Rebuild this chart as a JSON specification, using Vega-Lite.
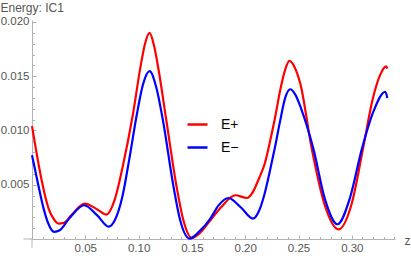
{
  "$schema": "https://vega.github.io/schema/vega-lite/v6.json",
  "width": 363,
  "height": 219,
  "autosize": "none",
  "padding": {"left": 32, "top": 20, "right": 16, "bottom": 20},
  "background": "white",
  "config": {"view": {"stroke": null}, "font": "Liberation Sans"},
  "datasets": {
    "axes": [
      {"z": -0.008, "z2": 0, "E": 0, "E2": 0},
      {"z": 0, "z2": 0, "E": -0.0008, "E2": 0}
    ],
    "curves": [
      {"z": 0, "E": 0.0104, "s": "E+"},
      {"z": 0.0047, "E": 0.0077, "s": "E+"},
      {"z": 0.0094, "E": 0.00525, "s": "E+"},
      {"z": 0.0156, "E": 0.0028, "s": "E+"},
      {"z": 0.02, "E": 0.0019, "s": "E+"},
      {"z": 0.025, "E": 0.00142, "s": "E+"},
      {"z": 0.03, "E": 0.0015, "s": "E+"},
      {"z": 0.037, "E": 0.0022, "s": "E+"},
      {"z": 0.0494, "E": 0.00326, "s": "E+"},
      {"z": 0.06, "E": 0.0028, "s": "E+"},
      {"z": 0.0697, "E": 0.00225, "s": "E+"},
      {"z": 0.0775, "E": 0.0036, "s": "E+"},
      {"z": 0.0847, "E": 0.0065, "s": "E+"},
      {"z": 0.0945, "E": 0.0114, "s": "E+"},
      {"z": 0.102, "E": 0.016, "s": "E+"},
      {"z": 0.106, "E": 0.018, "s": "E+"},
      {"z": 0.1103, "E": 0.019, "s": "E+"},
      {"z": 0.1145, "E": 0.0178, "s": "E+"},
      {"z": 0.1188, "E": 0.01555, "s": "E+"},
      {"z": 0.126, "E": 0.01094, "s": "E+"},
      {"z": 0.1357, "E": 0.00479, "s": "E+"},
      {"z": 0.142, "E": 0.00172, "s": "E+"},
      {"z": 0.15, "E": 0.0001, "s": "E+"},
      {"z": 0.158, "E": 0.0006, "s": "E+"},
      {"z": 0.1673, "E": 0.00172, "s": "E+"},
      {"z": 0.178, "E": 0.003, "s": "E+"},
      {"z": 0.1907, "E": 0.00403, "s": "E+"},
      {"z": 0.2017, "E": 0.00378, "s": "E+"},
      {"z": 0.207, "E": 0.0043, "s": "E+"},
      {"z": 0.213, "E": 0.0056, "s": "E+"},
      {"z": 0.2185, "E": 0.007, "s": "E+"},
      {"z": 0.2233, "E": 0.009, "s": "E+"},
      {"z": 0.228, "E": 0.0112, "s": "E+"},
      {"z": 0.233, "E": 0.0138, "s": "E+"},
      {"z": 0.2375, "E": 0.0156, "s": "E+"},
      {"z": 0.2414, "E": 0.01641, "s": "E+"},
      {"z": 0.246, "E": 0.0159, "s": "E+"},
      {"z": 0.2517, "E": 0.0143, "s": "E+"},
      {"z": 0.2624, "E": 0.00833, "s": "E+"},
      {"z": 0.275, "E": 0.003, "s": "E+"},
      {"z": 0.2874, "E": 0.00089, "s": "E+"},
      {"z": 0.3, "E": 0.0033, "s": "E+"},
      {"z": 0.3105, "E": 0.00833, "s": "E+"},
      {"z": 0.3196, "E": 0.0129, "s": "E+"},
      {"z": 0.3265, "E": 0.0151, "s": "E+"},
      {"z": 0.3323, "E": 0.0159, "s": "E+"},
      {"z": 0.3333, "E": 0.0157, "s": "E+"},
      {"z": 0, "E": 0.00771, "s": "E−"},
      {"z": 0.0053, "E": 0.00525, "s": "E−"},
      {"z": 0.0109, "E": 0.0028, "s": "E−"},
      {"z": 0.015, "E": 0.0015, "s": "E−"},
      {"z": 0.0209, "E": 0.00065, "s": "E−"},
      {"z": 0.026, "E": 0.0008, "s": "E−"},
      {"z": 0.035, "E": 0.0019, "s": "E−"},
      {"z": 0.049, "E": 0.00311, "s": "E−"},
      {"z": 0.061, "E": 0.0022, "s": "E−"},
      {"z": 0.0719, "E": 0.00114, "s": "E−"},
      {"z": 0.078, "E": 0.0018, "s": "E−"},
      {"z": 0.0847, "E": 0.00387, "s": "E−"},
      {"z": 0.0915, "E": 0.0075, "s": "E−"},
      {"z": 0.0982, "E": 0.0114, "s": "E−"},
      {"z": 0.104, "E": 0.0142, "s": "E−"},
      {"z": 0.1103, "E": 0.01546, "s": "E−"},
      {"z": 0.1165, "E": 0.014, "s": "E−"},
      {"z": 0.1228, "E": 0.01094, "s": "E−"},
      {"z": 0.1328, "E": 0.00479, "s": "E−"},
      {"z": 0.139, "E": 0.00172, "s": "E−"},
      {"z": 0.1478, "E": 0.00004, "s": "E−"},
      {"z": 0.157, "E": 0.0007, "s": "E−"},
      {"z": 0.1673, "E": 0.00188, "s": "E−"},
      {"z": 0.175, "E": 0.0031, "s": "E−"},
      {"z": 0.1842, "E": 0.00378, "s": "E−"},
      {"z": 0.196, "E": 0.0029, "s": "E−"},
      {"z": 0.2073, "E": 0.00188, "s": "E−"},
      {"z": 0.213, "E": 0.0026, "s": "E−"},
      {"z": 0.218, "E": 0.0041, "s": "E−"},
      {"z": 0.223, "E": 0.0062, "s": "E−"},
      {"z": 0.228, "E": 0.0085, "s": "E−"},
      {"z": 0.233, "E": 0.011, "s": "E−"},
      {"z": 0.2375, "E": 0.013, "s": "E−"},
      {"z": 0.2423, "E": 0.0138, "s": "E−"},
      {"z": 0.247, "E": 0.0133, "s": "E−"},
      {"z": 0.2525, "E": 0.012, "s": "E−"},
      {"z": 0.2639, "E": 0.00833, "s": "E−"},
      {"z": 0.275, "E": 0.0036, "s": "E−"},
      {"z": 0.2865, "E": 0.00136, "s": "E−"},
      {"z": 0.298, "E": 0.0037, "s": "E−"},
      {"z": 0.3095, "E": 0.00833, "s": "E−"},
      {"z": 0.3205, "E": 0.0118, "s": "E−"},
      {"z": 0.3314, "E": 0.01357, "s": "E−"},
      {"z": 0.3333, "E": 0.013, "s": "E−"}
    ]
  },
  "encoding": {
    "x": {
      "field": "z", "type": "quantitative",
      "scale": {"domain": [0, 0.3405], "nice": false, "zero": false},
      "axis": {
        "title": "z", "titleAngle": 0, "titleX": 375, "titleY": 1, "titleAlign": "center", "titleBaseline": "middle",
        "titleFontSize": 12, "titleFontWeight": "normal", "titleColor": "#555555",
        "values": [0.01,0.02,0.03,0.04,0.05,0.06,0.07,0.08,0.09,0.1,0.11,0.12,0.13,0.14,0.15,0.16,0.17,0.18,0.19,0.2,0.21,0.22,0.23,0.24,0.25,0.26,0.27,0.28,0.29,0.3,0.31,0.32,0.33,0.34],
        "labelExpr": "round(datum.value*100) % 5 == 0 ? format(datum.value, '.2f') : ''",
        "tickSize": {"condition": {"test": "round(datum.value*100) % 5 == 0", "value": -4}, "value": -2.5},
        "labelPadding": 7, "labelFontSize": 11.5, "labelColor": "#555555", "labelFlush": false,
        "domainColor": "#b3b3b3", "tickColor": "#b3b3b3", "grid": false
      }
    },
    "y": {
      "field": "E", "type": "quantitative",
      "scale": {"domain": [0, 0.02018], "nice": false, "zero": false},
      "axis": {
        "title": "Energy: IC1", "titleAngle": 0, "titleX": -32, "titleY": -9, "titleAlign": "left", "titleBaseline": "alphabetic",
        "titleFontSize": 12, "titleFontWeight": "normal", "titleColor": "#555555",
        "values": [0.001,0.002,0.003,0.004,0.005,0.006,0.007,0.008,0.009,0.01,0.011,0.012,0.013,0.014,0.015,0.016,0.017,0.018,0.019,0.02],
        "labelExpr": "round(datum.value*1000) % 5 == 0 ? format(datum.value, '.3f') : ''",
        "tickSize": {"condition": {"test": "round(datum.value*1000) % 5 == 0", "value": -4}, "value": -2.5},
        "labelPadding": 7, "labelFontSize": 11.5, "labelColor": "#555555", "labelFlush": false,
        "domainColor": "#b3b3b3", "tickColor": "#b3b3b3", "grid": false
      }
    }
  },
  "layer": [
    {
      "data": {"name": "axes"},
      "mark": {"type": "rule", "color": "#b3b3b3", "strokeWidth": 1},
      "encoding": {
        "x2": {"field": "z2"},
        "y2": {"field": "E2"}
      }
    },
    {
      "data": {"name": "curves"},
      "mark": {"type": "line", "interpolate": "monotone", "strokeWidth": 2.2},
      "encoding": {
        "color": {
          "field": "s", "type": "nominal",
          "scale": {"domain": ["E+", "E−"], "range": ["#ff0000", "#0000ff"]},
          "legend": {
            "title": null, "orient": "none", "legendX": 154, "legendY": 93, "padding": 0,
            "symbolType": "stroke", "symbolSize": 400, "symbolStrokeWidth": 2.5,
            "labelFontSize": 14, "labelColor": "#000000", "labelOffset": 12, "rowPadding": 4
          }
        }
      }
    }
  ]
}
